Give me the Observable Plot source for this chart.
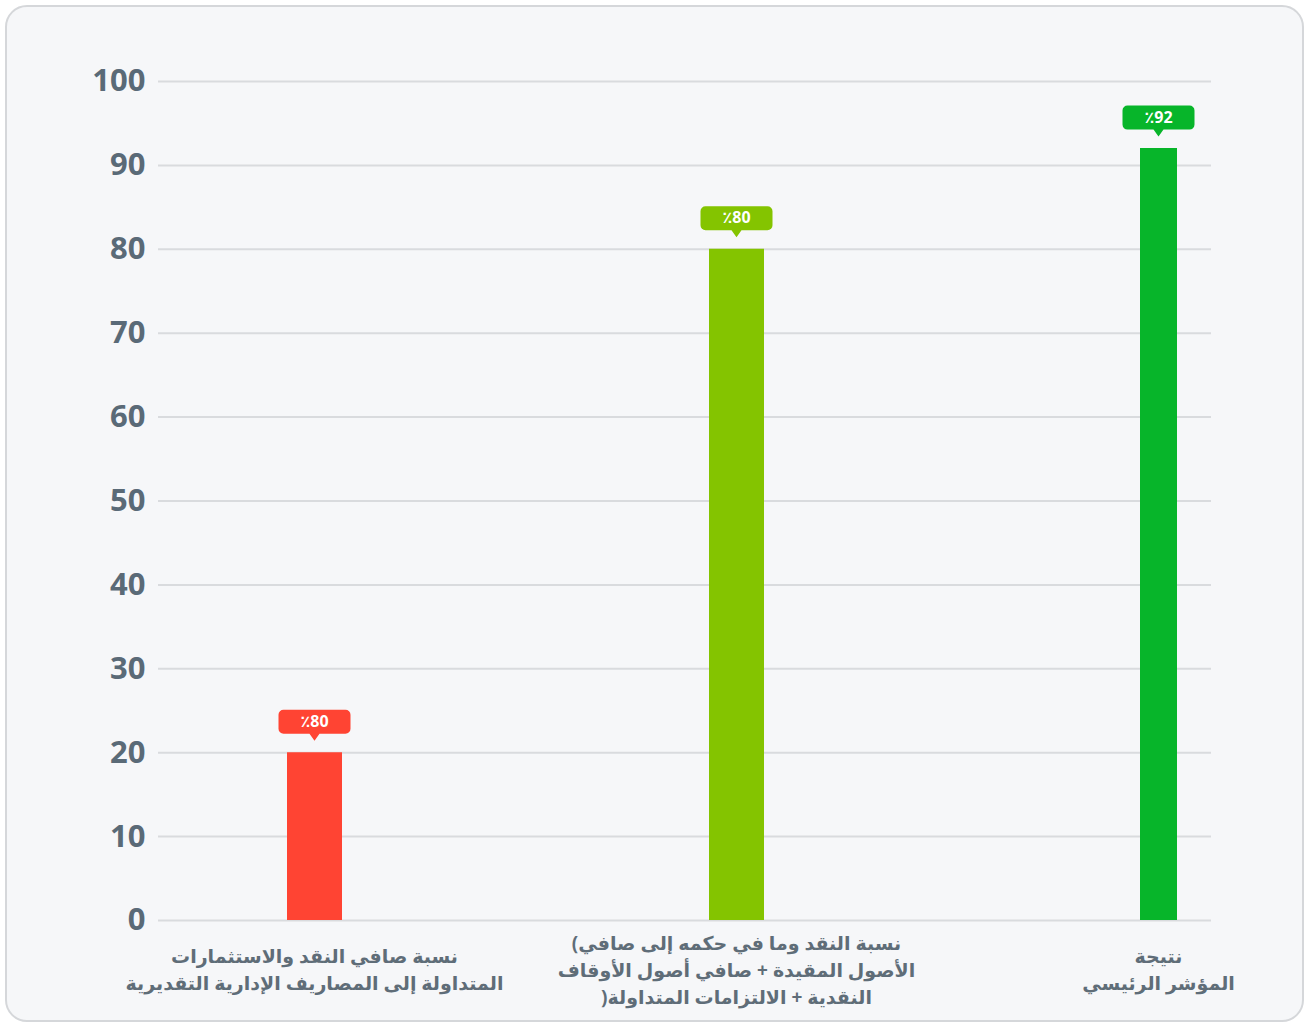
<!DOCTYPE html>
<html>
<head>
<meta charset="utf-8">
<script src="https://cdn.jsdelivr.net/npm/d3@7"></script>
<script src="https://cdn.jsdelivr.net/npm/@observablehq/plot@0.6"></script>
<style>
  html, body { margin: 0; padding: 0; background: #ffffff; }
  #card {
    position: absolute; left: 5px; top: 5px; width: 1295px; height: 1013px;
    border: 2px solid #d5d7da; border-radius: 22px; background: #f6f7f9;
  }
  #chart { position: absolute; left: 0; top: 0; }
  #chart svg { overflow: visible; }
</style>
</head>
<body>
<div id="card"></div>
<div id="chart"></div>
<script>
// ---- data ----
const categories = ["cat1", "cat2", "cat3"];
const categoryLabels = [
  ["نسبة صافي النقد والاستثمارات", "المتداولة إلى المصاريف الإدارية التقديرية"],
  ["(نسبة النقد وما في حكمه إلى صافي", "الأصول المقيدة + صافي أصول الأوقاف", ")النقدية + الالتزامات المتداولة"],
  ["نتيجة", "المؤشر الرئيسي"]
];
const values = [20, 80, 92];
const valueLabels = ["٪80", "٪80", "٪92"];
const yTicks = [0, 10, 20, 30, 40, 50, 60, 70, 80, 90, 100];

const palette = ["#ff4433", "#84c400", "#07b52a"];

const data = categories.map((c, i) => ({category: c, value: values[i], label: valueLabels[i]}));

// bubble (rounded rect + pointer) symbol
const bubble = {
  draw(ctx) {
    const w = 36, h = 12, r = 5, ph = 7, pw = 5;
    ctx.moveTo(-w + r, -h);
    ctx.lineTo(w - r, -h);
    ctx.arcTo(w, -h, w, -h + r, r);
    ctx.lineTo(w, h - r);
    ctx.arcTo(w, h, w - r, h, r);
    ctx.lineTo(pw, h);
    ctx.lineTo(0, h + ph);
    ctx.lineTo(-pw, h);
    ctx.lineTo(-w + r, h);
    ctx.arcTo(-w, h, -w, h - r, r);
    ctx.lineTo(-w, -h + r);
    ctx.arcTo(-w, -h, -w + r, -h, r);
    ctx.closePath();
  }
};

// one text mark per label line, so each line is its own bidi paragraph
const lineHeight = 27;
const labelMarks = [];
categories.forEach((c, i) => {
  const lines = categoryLabels[i];
  lines.forEach((t, j) => {
    labelMarks.push(Plot.text([{category: c, text: t}], {
      x: "category", text: "text", frameAnchor: "bottom", lineAnchor: "middle",
      dy: 50 + (j - (lines.length - 1) / 2) * lineHeight,
      fontSize: 19, fontWeight: "bold", fill: "#5f6d78"
    }));
  });
});

const chart = Plot.plot({
  width: 1305,
  height: 1023,
  marginLeft: 158,
  marginRight: 94,
  marginTop: 81,
  marginBottom: 103,
  style: {background: "transparent", fontFamily: "'Noto Sans', 'DejaVu Sans', sans-serif"},
  x: {type: "point", domain: categories, padding: 0, insetLeft: 155, insetRight: 53, axis: null},
  y: {domain: [0, 100]},
  color: {domain: categories, range: palette},
  marks: [
    Plot.ruleY(yTicks, {stroke: "#d9dbde", strokeWidth: 2, strokeOpacity: 1}),
    Plot.axisY({
      ticks: yTicks, tickSize: 0, tickPadding: 13, label: null,
      fontSize: 31, fontWeight: "bold", fill: "#5a6a77"
    }),
    ...labelMarks,
    Plot.ruleX(data, {
      x: "category", y1: 0, y2: "value", stroke: "category",
      strokeWidth: (d, i) => (i === 2 ? 37 : 55), strokeOpacity: 1
    }),
    Plot.dot(data, {
      x: "category", y: "value", symbol: bubble, fill: "category",
      stroke: null, dy: -31
    }),
    Plot.text(data, {
      x: "category", y: "value", text: "label", dy: -31,
      fill: "white", fontWeight: "bold", fontSize: 16
    })
  ]
});

document.getElementById("chart").appendChild(chart);
</script>
</body>
</html>
